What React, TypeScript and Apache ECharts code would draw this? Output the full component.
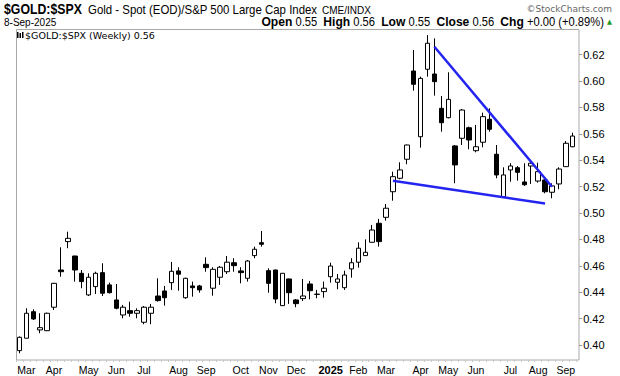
import React, { useEffect, useRef } from 'react';
import * as echarts from 'echarts';

// Weekly categories (week start dates)
const weeks = [
  '2024-02-26',
  '2024-03-04', '2024-03-11', '2024-03-18', '2024-03-25',
  '2024-04-01', '2024-04-08', '2024-04-15', '2024-04-22', '2024-04-29',
  '2024-05-06', '2024-05-13', '2024-05-20', '2024-05-27',
  '2024-06-03', '2024-06-10', '2024-06-17', '2024-06-24',
  '2024-07-01', '2024-07-08', '2024-07-15', '2024-07-22', '2024-07-29',
  '2024-08-05', '2024-08-12', '2024-08-19', '2024-08-26',
  '2024-09-02', '2024-09-09', '2024-09-16', '2024-09-23', '2024-09-30',
  '2024-10-07', '2024-10-14', '2024-10-21', '2024-10-28',
  '2024-11-04', '2024-11-11', '2024-11-18', '2024-11-25',
  '2024-12-02', '2024-12-09', '2024-12-16', '2024-12-23', '2024-12-30',
  '2025-01-06', '2025-01-13', '2025-01-20', '2025-01-27',
  '2025-02-03', '2025-02-10', '2025-02-17', '2025-02-24',
  '2025-03-03', '2025-03-10', '2025-03-17', '2025-03-24', '2025-03-31',
  '2025-04-07', '2025-04-14', '2025-04-21', '2025-04-28',
  '2025-05-05', '2025-05-12', '2025-05-19', '2025-05-26',
  '2025-06-02', '2025-06-09', '2025-06-16', '2025-06-23', '2025-06-30',
  '2025-07-07', '2025-07-14', '2025-07-21', '2025-07-28',
  '2025-08-04', '2025-08-11', '2025-08-18', '2025-08-25',
  '2025-09-01', '2025-09-08',
];

const opens = [
  0.3957, 0.4051, 0.4252, 0.4114, 0.4108, 0.4286, 0.4568, 0.4783, 0.4674, 0.4543,
  0.4379, 0.4442, 0.4548, 0.4455, 0.4341, 0.4227, 0.4260, 0.4240, 0.4172, 0.4240,
  0.4371, 0.4409, 0.4472, 0.4561, 0.4358, 0.4447, 0.4447, 0.4611, 0.4430, 0.4513,
  0.4555, 0.4623, 0.4561, 0.4505, 0.4677, 0.4775, 0.4563, 0.4568, 0.4298, 0.4500,
  0.4341, 0.4351, 0.4462, 0.4383, 0.4404, 0.4517, 0.4475, 0.4434, 0.4576, 0.4627,
  0.4677, 0.4778, 0.4922, 0.4967, 0.5161, 0.5263, 0.5407, 0.6076, 0.5578, 0.6089,
  0.6053, 0.5793, 0.5722, 0.5508, 0.5566, 0.5646, 0.5472, 0.5536, 0.5710, 0.5445,
  0.5123, 0.5326, 0.5343, 0.5235, 0.5356, 0.5242, 0.5250, 0.5157, 0.5220, 0.5351,
  0.5502,
];
const closes = [
  0.4058, 0.4240, 0.4197, 0.4131, 0.4240, 0.4467, 0.4555, 0.4808, 0.4568, 0.4480,
  0.4513, 0.4543, 0.4392, 0.4396, 0.4278, 0.4286, 0.4240, 0.4260, 0.4286, 0.4286,
  0.4336, 0.4358, 0.4558, 0.4536, 0.4505, 0.4434, 0.4417, 0.4586, 0.4573, 0.4589,
  0.4627, 0.4601, 0.4548, 0.4636, 0.4725, 0.4763, 0.4467, 0.4348, 0.4543, 0.4396,
  0.4313, 0.4371, 0.4411, 0.4385, 0.4430, 0.4598, 0.4500, 0.4530, 0.4623, 0.4733,
  0.4702, 0.4871, 0.4783, 0.5036, 0.5275, 0.5326, 0.5515, 0.5975, 0.6020, 0.6286,
  0.5995, 0.5684, 0.5861, 0.5364, 0.5780, 0.5553, 0.5502, 0.5730, 0.5634, 0.5288,
  0.5288, 0.5356, 0.5308, 0.5214, 0.5377, 0.5313, 0.5161, 0.5205, 0.5333, 0.5528,
  0.5583,
];
const lows = [
  0.3937, 0.4050, 0.4189, 0.4089, 0.4105, 0.4265, 0.4517, 0.4733, 0.4480, 0.4430,
  0.4371, 0.4386, 0.4371, 0.4390, 0.4270, 0.4202, 0.4214, 0.4202, 0.4157, 0.4157,
  0.4328, 0.4298, 0.4417, 0.4411, 0.4350, 0.4366, 0.4396, 0.4555, 0.4373, 0.4455,
  0.4538, 0.4555, 0.4467, 0.4480, 0.4657, 0.4745, 0.4396, 0.4316, 0.4295, 0.4311,
  0.4286, 0.4333, 0.4346, 0.4354, 0.4358, 0.4472, 0.4422, 0.4417, 0.4510, 0.4586,
  0.4675, 0.4775, 0.4745, 0.4942, 0.5093, 0.5255, 0.5369, 0.5927, 0.5495, 0.6033,
  0.5889, 0.5616, 0.5717, 0.5225, 0.5515, 0.5483, 0.5460, 0.5498, 0.5616, 0.5263,
  0.5120, 0.5237, 0.5245, 0.5205, 0.5220, 0.5230, 0.5149, 0.5111, 0.5180, 0.5350,
  0.5498,
];
const highs = [
  0.4065, 0.4278, 0.4270, 0.4240, 0.4245, 0.4470, 0.4740, 0.4858, 0.4676, 0.4568,
  0.4543, 0.4555, 0.4619, 0.4472, 0.4462, 0.4303, 0.4328, 0.4278, 0.4295, 0.4311,
  0.4505, 0.4447, 0.4629, 0.4589, 0.4510, 0.4480, 0.4455, 0.4664, 0.4589, 0.4598,
  0.4674, 0.4657, 0.4589, 0.4644, 0.4745, 0.4864, 0.4581, 0.4570, 0.4545, 0.4502,
  0.4348, 0.4500, 0.4485, 0.4417, 0.4480, 0.4623, 0.4538, 0.4563, 0.4657, 0.4778,
  0.4800, 0.4909, 0.4955, 0.5068, 0.5313, 0.5384, 0.5518, 0.6235, 0.6033, 0.6348,
  0.6323, 0.5886, 0.6066, 0.5515, 0.5788, 0.5654, 0.5667, 0.5760, 0.5793, 0.5515,
  0.5346, 0.5377, 0.5356, 0.5377, 0.5390, 0.5381, 0.5258, 0.5225, 0.5346, 0.5545,
  0.5608,
];

// Month tick labels (first week of each month)
const monthWeeks = [
  '2024-03-04', '2024-04-01', '2024-05-06', '2024-06-03', '2024-07-01', '2024-08-05',
  '2024-09-02', '2024-10-07', '2024-11-04', '2024-12-02', '2025-01-06', '2025-02-03',
  '2025-03-03', '2025-04-07', '2025-05-05', '2025-06-02', '2025-07-07', '2025-08-04',
  '2025-09-01',
];
const monthNames = [
  'Mar', 'Apr', 'May', 'Jun', 'Jul', 'Aug', 'Sep', 'Oct', 'Nov', 'Dec', '2025', 'Feb',
  'Mar', 'Apr', 'May', 'Jun', 'Jul', 'Aug', 'Sep',
];

const yTicks = [0.4, 0.42, 0.44, 0.46, 0.48, 0.5, 0.52, 0.54, 0.56, 0.58, 0.6, 0.62];

// Trendlines: [week, value] endpoints
const upperTrend = [['2025-04-21', 0.626], ['2025-08-18', 0.5199]];
const lowerTrend = [['2025-03-10', 0.5245], ['2025-08-11', 0.5072]];

const SANS = "'Liberation Sans', Arial, sans-serif";
const DEJAVU = "'DejaVu Sans', sans-serif";

export default function App() {
  const ref = useRef<HTMLDivElement>(null);

  useEffect(() => {
    if (!ref.current) return;
    const chart = echarts.init(ref.current, null, { renderer: 'svg' });

    const labelMap: Record<string, string> = {};
    monthWeeks.forEach((w, i) => {
      labelMap[w] = monthNames[i];
    });

    const candles = weeks.map((_, i) => [opens[i], closes[i], lows[i], highs[i]]);

    const trendStyle = { color: '#2424f0', width: 2.5, type: 'solid' as const };

    const option: any = {
      animation: false,
      backgroundColor: '#ffffff',
      grid: { left: 16, top: 29, width: 560.2, height: 331, containLabel: false },
      xAxis: {
        type: 'category',
        data: weeks,
        boundaryGap: true,
        axisLine: { show: false },
        axisTick: { show: true, interval: 0, length: 2, lineStyle: { color: '#c8c8c8' } },
        splitLine: { show: false },
        axisLabel: {
          interval: (_idx: number, val: string) => labelMap[val] !== undefined,
          formatter: (val: string) => {
            const t = labelMap[val] || '';
            return t === '2025' ? '{b|2025}' : t;
          },
          rich: { b: { fontWeight: 'bold', fontSize: 11, fontFamily: SANS, color: '#000' } },
          fontSize: 10.5,
          fontFamily: SANS,
          color: '#000',
          margin: 4,
        },
      },
      yAxis: {
        type: 'value',
        position: 'right',
        offset: 3,
        min: 0.3886,
        max: 0.6394,
        scale: true,
        axisLine: { show: false },
        axisTick: { show: true, length: 3, customValues: yTicks, lineStyle: { color: '#999' } },
        splitLine: { show: false },
        axisLabel: {
          customValues: yTicks,
          formatter: (v: number) => v.toFixed(2),
          fontSize: 11,
          fontFamily: SANS,
          color: '#000',
          margin: 4,
        },
      },
      series: [
        {
          type: 'candlestick',
          data: candles,
          barWidth: 5,
          itemStyle: {
            color: '#ffffff',
            color0: '#000000',
            borderColor: '#000000',
            borderColor0: '#000000',
            borderWidth: 1,
          },
          markLine: {
            silent: true,
            symbol: ['none', 'none'],
            label: { show: false },
            lineStyle: trendStyle,
            emphasis: { disabled: true },
            data: [
              [{ coord: upperTrend[0], lineStyle: trendStyle }, { coord: upperTrend[1] }],
              [{ coord: lowerTrend[0], lineStyle: trendStyle }, { coord: lowerTrend[1] }],
            ],
          },
        },
      ],
      graphic: [
        {
          type: 'rect',
          shape: { x: 16.5, y: 29.5, width: 562.5, height: 330.5 },
          style: { fill: 'none', stroke: '#a8a8a8', lineWidth: 1 },
          silent: true,
          z: -1,
        },
        {
          type: 'text',
          x: 4,
          y: 9,
          scaleX: 0.82,
          style: {
            text: '$GOLD:$SPX',
            font: `bold 15px ${SANS}`,
            fill: '#000',
            textAlign: 'left',
            textVerticalAlign: 'middle',
          },
        },
        {
          type: 'text',
          x: 88,
          y: 10,
          scaleX: 0.9,
          style: {
            text: 'Gold - Spot (EOD)/S&P 500 Large Cap Index',
            font: `12.7px ${SANS}`,
            fill: '#000',
            textAlign: 'left',
            textVerticalAlign: 'middle',
          },
        },
        {
          type: 'text',
          x: 322,
          y: 10,
          style: {
            text: 'CME/INDX',
            font: `10px ${SANS}`,
            fill: '#000',
            textAlign: 'left',
            textVerticalAlign: 'middle',
          },
        },
        {
          type: 'text',
          x: 612,
          y: 9,
          style: {
            text: '©StockCharts.com',
            font: `9px ${DEJAVU}`,
            fill: '#666',
            textAlign: 'right',
            textVerticalAlign: 'middle',
          },
        },
        {
          type: 'text',
          x: 4,
          y: 22,
          style: {
            text: '8-Sep-2025',
            font: `10px ${SANS}`,
            fill: '#000',
            textAlign: 'left',
            textVerticalAlign: 'middle',
          },
        },
        {
          type: 'text',
          x: 612,
          y: 22,
          scaleX: 0.93,
          style: {
            text:
              '{l|Open} {v|0.55}  {l|High} {v|0.56}  {l|Low} {v|0.55}  {l|Close} {v|0.56}  {l|Chg} {v|+0.00 (+0.89%)} {g|▲}',
            textAlign: 'right',
            textVerticalAlign: 'middle',
            fill: '#000',
            font: `12px ${SANS}`,
            rich: {
              l: { fontFamily: SANS, fontWeight: 'bold', fontSize: 13, fill: '#000' },
              v: { fontFamily: SANS, fontSize: 12, fill: '#000' },
              g: { fontFamily: DEJAVU, fontSize: 7, fill: '#1f9a1f' },
            },
          },
        },
        // small legend icon
        {
          type: 'group',
          children: [
            { type: 'rect', shape: { x: 17, y: 32, width: 1.5, height: 6 }, style: { fill: '#000' } },
            { type: 'rect', shape: { x: 19.5, y: 33, width: 1.5, height: 5 }, style: { fill: '#000' } },
            { type: 'rect', shape: { x: 22, y: 32, width: 1.5, height: 6 }, style: { fill: '#000' } },
          ],
        },
        {
          type: 'text',
          x: 25,
          y: 35.5,
          style: {
            text: '$GOLD:$SPX (Weekly) 0.56',
            font: `9.5px ${DEJAVU}`,
            fill: '#000',
            textAlign: 'left',
            textVerticalAlign: 'middle',
          },
        },
      ],
    };

    chart.setOption(option);
    return () => {
      chart.dispose();
    };
  }, []);

  return (
    <div
      ref={ref}
      style={{ position: 'fixed', left: 0, top: 0, width: 620, height: 376, background: '#fff' }}
    />
  );
}
